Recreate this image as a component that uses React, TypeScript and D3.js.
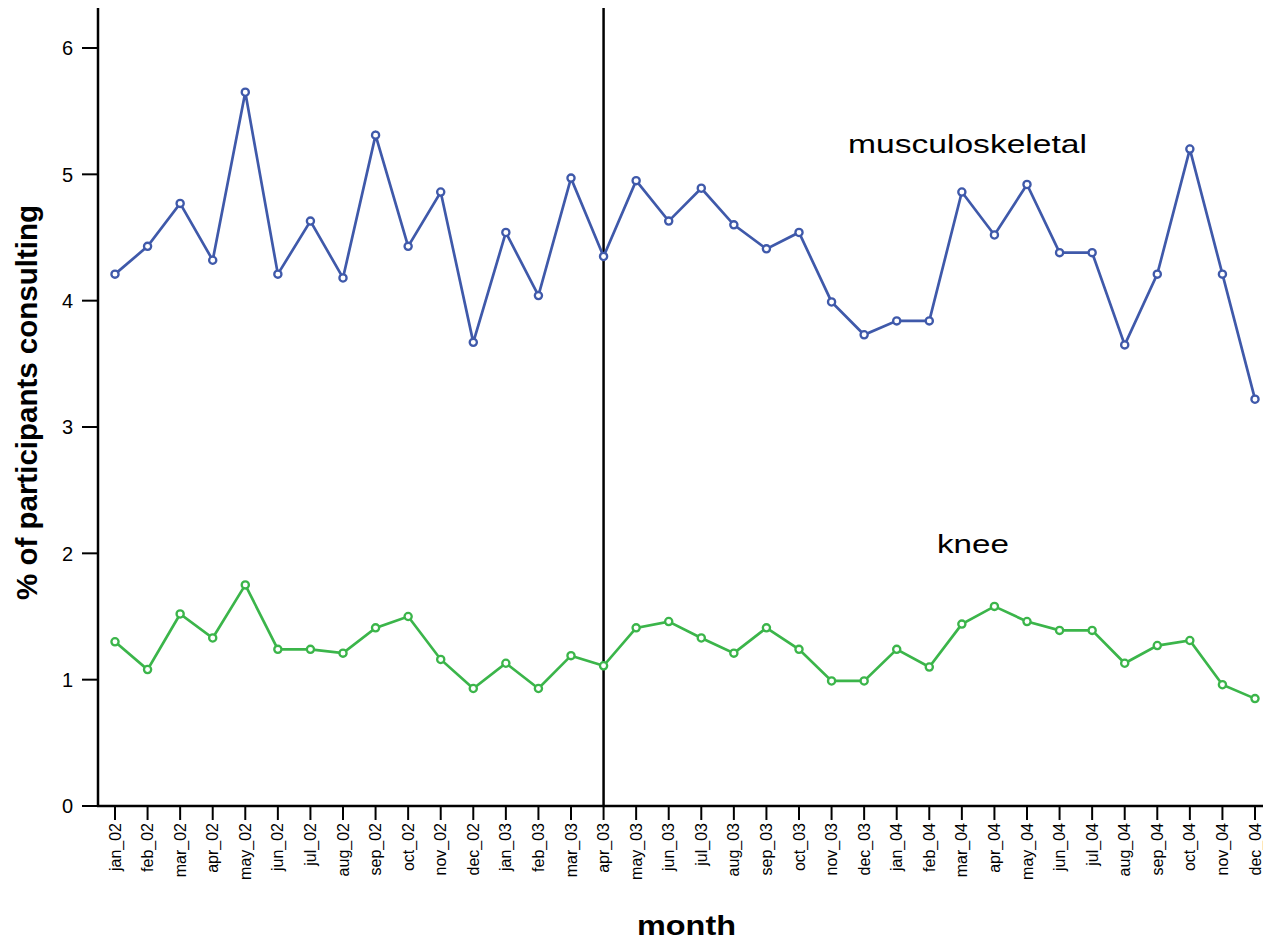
import React from "react";
import * as d3 from "d3";

const months = [
  "jan_02","feb_02","mar_02","apr_02","may_02","jun_02","jul_02","aug_02","sep_02","oct_02","nov_02","dec_02",
  "jan_03","feb_03","mar_03","apr_03","may_03","jun_03","jul_03","aug_03","sep_03","oct_03","nov_03","dec_03",
  "jan_04","feb_04","mar_04","apr_04","may_04","jun_04","jul_04","aug_04","sep_04","oct_04","nov_04","dec_04",
];
const musculoskeletal = [
  4.21, 4.43, 4.77, 4.32, 5.65, 4.21, 4.63, 4.18, 5.31, 4.43, 4.86, 3.67,
  4.54, 4.04, 4.97, 4.35, 4.95, 4.63, 4.89, 4.60, 4.41, 4.54, 3.99, 3.73,
  3.84, 3.84, 4.86, 4.52, 4.92, 4.38, 4.38, 3.65, 4.21, 5.20, 4.21, 3.22,
];
const knee = [
  1.30, 1.08, 1.52, 1.33, 1.75, 1.24, 1.24, 1.21, 1.41, 1.50, 1.16, 0.93,
  1.13, 0.93, 1.19, 1.11, 1.41, 1.46, 1.33, 1.21, 1.41, 1.24, 0.99, 0.99,
  1.24, 1.10, 1.44, 1.58, 1.46, 1.39, 1.39, 1.13, 1.27, 1.31, 0.96, 0.85,
];
const yTicks = [0, 1, 2, 3, 4, 5, 6];
const interventionMonth = "apr_03";

const W = 1263, H = 941;
const FONT = "'Liberation Sans', Arial, sans-serif";
const BLUE = "#3f59aa";
const GREEN = "#3bb54a";

export default function App() {
  const x = d3.scalePoint<string>().domain(months).range([115, 1255]);
  const y = d3.scaleLinear().domain([0, 6]).range([806, 48]);
  const line = d3.line<number>().x((_, i) => x(months[i])!).y((d) => y(d));

  const series = [
    { name: "musculoskeletal", values: musculoskeletal, color: BLUE },
    { name: "knee", values: knee, color: GREEN },
  ];

  return (
    <svg width={W} height={H} style={{ position: "absolute", left: 0, top: 0, background: "#fff" }} fontFamily={FONT}>
      {/* axes */}
      <line x1={98} x2={98} y1={8} y2={807} stroke="#000" strokeWidth={2.5} />
      <line x1={97} x2={W} y1={806} y2={806} stroke="#000" strokeWidth={2.5} />
      {yTicks.map((t) => (
        <g key={t}>
          <line x1={82} x2={98} y1={y(t)} y2={y(t)} stroke="#000" strokeWidth={2} />
          <text x={73} y={y(t)} dy="0.36em" textAnchor="end" fontSize={20} fill="#000">{t}</text>
        </g>
      ))}
      {months.map((m) => (
        <g key={m}>
          <line x1={x(m)} x2={x(m)} y1={806} y2={820} stroke="#000" strokeWidth={2} />
          <text
            transform={`translate(${x(m)! + 5.5},${823}) rotate(-90)`}
            textAnchor="end"
            fontSize={16}
            fill="#000"
          >{m}</text>
        </g>
      ))}
      {/* intervention line */}
      <line x1={x(interventionMonth)} x2={x(interventionMonth)} y1={8} y2={806} stroke="#000" strokeWidth={2.5} />
      {series.map((s) => (
        <g key={s.name}>
          <path d={line(s.values)!} fill="none" stroke={s.color} strokeWidth={2.7} />
          {s.values.map((v, i) => (
            <circle key={i} cx={x(months[i])} cy={y(v)} r={3.6} fill="#fff" stroke={s.color} strokeWidth={2.3} />
          ))}
        </g>
      ))}
      <text x={848} y={153} fontSize={26.5} fill="#000" textLength={239} lengthAdjust="spacingAndGlyphs">musculoskeletal</text>
      <text x={937} y={553} fontSize={26.5} fill="#000" textLength={72} lengthAdjust="spacingAndGlyphs">knee</text>
      <text
        transform={`translate(37,600) scale(1.1,1) rotate(-90)`}
        fontSize={27}
        fontWeight="bold"
        fill="#000"
        textLength={395}
        lengthAdjust="spacingAndGlyphs"
      >% of participants consulting</text>
      <text x={637} y={935} fontSize={27} fontWeight="bold" fill="#000" textLength={99} lengthAdjust="spacingAndGlyphs">month</text>
    </svg>
  );
}
